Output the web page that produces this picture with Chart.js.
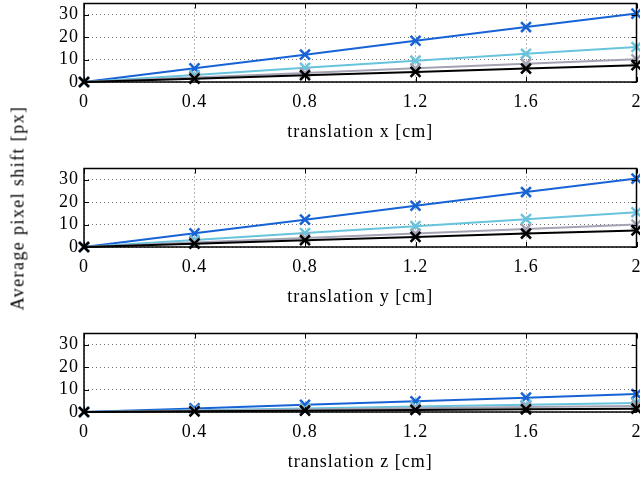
<!DOCTYPE html>
<html>
  <body style="margin: 0; width: 640px; height: 481px; overflow: hidden; background: #fff; position: relative">
    <!-- shifted up/right so the plot boxes land where the original ones are (points reserve ~9.5px on top and right) -->
    <div style="position: absolute; left: 0; top: -6px; width: 646px; height: 171px"><canvas id="plotX"></canvas></div>
    <div style="position: absolute; left: 0; top: 159px; width: 646px; height: 171px"><canvas id="plotY"></canvas></div>
    <div style="position: absolute; left: 0; top: 324px; width: 646px; height: 171px"><canvas id="plotZ"></canvas></div>
    <div
      id="yTitle"
      style="position: absolute; left: 18px; top: 208px; transform: translate(-50%, -50%) rotate(-90deg); white-space: nowrap; font-family: 'Liberation Serif', serif; font-size: 18px; letter-spacing: 1.4px; color: #000"
    >Average pixel shift [px]</div>

    <script src="https://cdn.jsdelivr.net/npm/chart.js"></script>

    <script>
      // translation steps in cm
      const translations = [0, 0.4, 0.8, 1.2, 1.6, 2];
      const xTickLabels = [0, 0.4, 0.8, 1.2, 1.6, 2];
      const yTickLabels = [0, 10, 20, 30];

      // average pixel shift per series, one set for each axis
      const xDarkBlue = [0, 6.1, 12.2, 18.4, 24.5, 30.5];
      const xLightBlue = [0, 3.1, 6.3, 9.5, 12.6, 15.6];
      const xGray = [0, 2.0, 4.0, 6.1, 8.1, 10.1];
      const xBlack = [0, 1.5, 3.0, 4.5, 6.0, 7.5];

      const yDarkBlue = [0, 6.1, 12.2, 18.4, 24.5, 30.5];
      const yLightBlue = [0, 3.1, 6.2, 9.3, 12.4, 15.5];
      const yGray = [0, 2.0, 4.0, 6.0, 8.0, 10.0];
      const yBlack = [0, 1.5, 3.0, 4.5, 6.0, 7.4];

      const zDarkBlue = [0, 1.6, 3.2, 4.8, 6.4, 8.0];
      const zLightBlue = [0, 0.8, 1.6, 2.4, 3.2, 4.0];
      const zGray = [0, 0.55, 1.1, 1.65, 2.2, 2.7];
      const zBlack = [0, 0.3, 0.6, 0.9, 1.2, 1.5];

      const serif = "'Liberation Serif', 'DejaVu Serif', serif";

      // wider text, like the original rendering
      const spacingPlugin = {
        id: "spacing",
        beforeUpdate(chart) {
          chart.ctx.letterSpacing = "1px";
        },
        beforeDraw(chart) {
          chart.ctx.letterSpacing = "1px";
        },
      };

      // MATLAB style box with inward ticks
      const boxPlugin = {
        id: "box",
        afterDraw(chart) {
          const { ctx, chartArea: a, scales } = chart;
          ctx.save();
          ctx.setLineDash([]);
          ctx.strokeStyle = "#000";
          ctx.lineWidth = 1;
          ctx.beginPath();
          scales.x.ticks.forEach((t) => {
            const px = Math.round(scales.x.getPixelForValue(t.value)) + 0.5;
            ctx.moveTo(px, a.bottom);
            ctx.lineTo(px, a.bottom - 5);
            ctx.moveTo(px, a.top);
            ctx.lineTo(px, a.top + 5);
          });
          scales.y.ticks.forEach((t) => {
            const py = Math.round(scales.y.getPixelForValue(t.value)) + 0.5;
            ctx.moveTo(a.left, py);
            ctx.lineTo(a.left + 5, py);
            ctx.moveTo(a.right, py);
            ctx.lineTo(a.right - 5, py);
          });
          ctx.stroke();
          ctx.lineWidth = 1.5;
          ctx.strokeRect(a.left, a.top, a.right - a.left, a.bottom - a.top);
          ctx.restore();
        },
      };

      function series(values, color) {
        return {
          data: translations.map((x, i) => ({ x: x, y: values[i] })),
          borderColor: color,
          backgroundColor: color,
          borderWidth: 2,
          pointStyle: "crossRot",
          pointRadius: 7,
          pointBorderWidth: 2.5,
          pointHoverRadius: 7,
          clip: false,
        };
      }

      function makePlot(id, axisName, darkBlue, lightBlue, gray, black) {
        new Chart(document.getElementById(id), {
          type: "line",
          data: {
            // first dataset is drawn on top
            datasets: [
              series(black, "#000000"),
              series(gray, "#a3a3b4"),
              series(lightBlue, "#68c3dc"),
              series(darkBlue, "#1763d6"),
            ],
          },
          options: {
            responsive: true,
            maintainAspectRatio: false,
            animation: false,
            layout: { padding: 0 },
            plugins: { legend: { display: false }, tooltip: { enabled: false } },
            scales: {
              x: {
                type: "linear",
                min: 0,
                max: 2,
                afterBuildTicks: (s) => {
                  s.ticks = xTickLabels.map((v) => ({ value: v }));
                },
                afterFit: (s) => {
                  s.height = 83;
                  s.paddingLeft = 0;
                  s.paddingRight = 0;
                },
                border: { display: false, dash: [1, 3] },
                grid: {
                  color: "rgba(0,0,0,0.55)",
                  lineWidth: 1,
                  drawTicks: false,
                },
                ticks: {
                  padding: 9,
                  color: "#000",
                  maxRotation: 0,
                  autoSkip: false,
                  font: { family: serif, size: 18 },
                  callback: (v) => String(v),
                },
                title: {
                  display: true,
                  text: "translation " + axisName + " [cm]",
                  color: "#000",
                  font: { family: serif, size: 18 },
                  padding: { top: 0, bottom: 22 },
                },
              },
              y: {
                min: 0,
                max: 35,
                afterBuildTicks: (s) => {
                  s.ticks = yTickLabels.map((v) => ({ value: v }));
                },
                afterFit: (s) => {
                  s.width = 84;
                  s.paddingTop = 0;
                  s.paddingBottom = 0;
                },
                border: { display: false, dash: [1, 3] },
                grid: {
                  color: "rgba(0,0,0,0.55)",
                  lineWidth: 1,
                  drawTicks: false,
                },
                ticks: {
                  padding: 5,
                  color: "#000",
                  autoSkip: false,
                  font: { family: serif, size: 18 },
                },
              },
            },
          },
          plugins: [spacingPlugin, boxPlugin],
        });
      }

      makePlot("plotX", "x", xDarkBlue, xLightBlue, xGray, xBlack);
      makePlot("plotY", "y", yDarkBlue, yLightBlue, yGray, yBlack);
      makePlot("plotZ", "z", zDarkBlue, zLightBlue, zGray, zBlack);
    </script>
  </body>
</html>
